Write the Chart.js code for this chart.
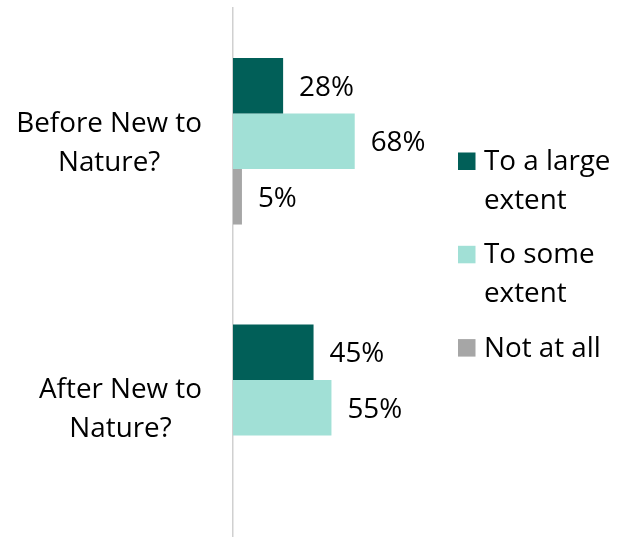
<!DOCTYPE html>
<html>
<head>
<meta charset="utf-8">
<script src="https://cdn.jsdelivr.net/npm/chart.js@4.4.1/dist/chart.umd.min.js"></script>
<style>
  html, body { margin: 0; padding: 0; background: #fff; overflow: hidden; }
  #wrap { position: relative; width: 625px; height: 541px; }
</style>
</head>
<body>
<div id="wrap"><canvas id="c" width="625" height="541"></canvas></div>
<script>
// ---- data (percent) ----
const categories = [["Before New to", "Nature?"], ["After New to", "Nature?"]];
const seriesNames = [["To a large", "extent"], ["To some", "extent"], ["Not at all"]];
const toALargeExtent = [28, 45];
const toSomeExtent   = [68, 55];
const notAtAll       = [5, null];
const seriesColors   = ["#015F58", "#A1E0D6", "#A6A6A6"];

const FONT_FAMILY = "'Open Sans', 'Noto Sans', sans-serif";
const FONT_SIZE = 27.8;
const FONT = FONT_SIZE + "px " + FONT_FAMILY;

const valueLabels = {
  id: 'valueLabels',
  afterDatasetsDraw(chart) {
    const ctx = chart.ctx;
    ctx.save();
    ctx.font = FONT;
    ctx.fillStyle = '#000';
    ctx.textAlign = 'left';
    ctx.textBaseline = 'alphabetic';
    chart.data.datasets.forEach((ds, di) => {
      const meta = chart.getDatasetMeta(di);
      meta.data.forEach((bar, i) => {
        const v = ds.data[i];
        if (v === null || v === undefined) return;
        ctx.fillText(Math.round(v) + '%', bar.x + 16, bar.y + FONT_SIZE * 0.36);
      });
    });
    ctx.restore();
  }
};

const categoryLabels = {
  id: 'categoryLabels',
  afterDraw(chart) {
    const ctx = chart.ctx;
    const yScale = chart.scales.y;
    const lineH = 39;
    const rightEdge = chart.chartArea.left - 31;
    ctx.save();
    ctx.font = FONT;
    ctx.fillStyle = '#000';
    ctx.textAlign = 'center';
    ctx.textBaseline = 'alphabetic';
    chart.data.labels.forEach((lines, i) => {
      const cy = yScale.getPixelForTick(i);
      const widths = lines.map(l => ctx.measureText(l).width);
      const blockW = Math.max(...widths);
      const cx = rightEdge - blockW / 2;
      const n = lines.length;
      lines.forEach((l, k) => {
        const base = cy - (n * lineH) / 2 + k * lineH + lineH / 2 + FONT_SIZE * 0.36;
        ctx.fillText(l, cx, base);
      });
    });
    ctx.restore();
  }
};

const wrappedLegend = {
  id: 'wrappedLegend',
  afterDraw(chart) {
    const ctx = chart.ctx;
    const boxX = 458, textX = 484, box = 17.5;
    const firstBase = 170, itemStep = 93.3, lineStep = 38.5;
    ctx.save();
    ctx.font = FONT;
    ctx.textAlign = 'left';
    ctx.textBaseline = 'alphabetic';
    chart.data.datasets.forEach((ds, di) => {
      const base = firstBase + di * itemStep;
      ctx.fillStyle = ds.backgroundColor;
      ctx.fillRect(boxX, base - box, box, box);
      ctx.fillStyle = '#000';
      seriesNames[di].forEach((line, k) => {
        ctx.fillText(line, textX, base + k * lineStep);
      });
    });
    ctx.restore();
  }
};

new Chart(document.getElementById('c'), {
  type: 'bar',
  data: {
    labels: categories,
    datasets: [
      { label: seriesNames[0].join(' '), data: toALargeExtent, backgroundColor: seriesColors[0] },
      { label: seriesNames[1].join(' '), data: toSomeExtent,   backgroundColor: seriesColors[1] },
      { label: seriesNames[2].join(' '), data: notAtAll,       backgroundColor: seriesColors[2] }
    ]
  },
  options: {
    indexAxis: 'y',
    responsive: false,
    animation: false,
    layout: { padding: { left: 233, right: 213, top: 8, bottom: 0 } },
    datasets: { bar: { categoryPercentage: 0.625, barPercentage: 1.0, borderWidth: 0 } },
    scales: {
      x: { display: false, min: 0, max: 100 },
      y: {
        display: true,
        grid: { display: false, drawTicks: false },
        ticks: { display: false },
        border: { display: true, color: '#D0D0D0', width: 1.5 },
        afterFit(s) { s.width = 0; }
      }
    },
    plugins: {
      legend: { display: false },
      tooltip: { enabled: false }
    }
  },
  plugins: [valueLabels, categoryLabels, wrappedLegend]
});
</script>
</body>
</html>
